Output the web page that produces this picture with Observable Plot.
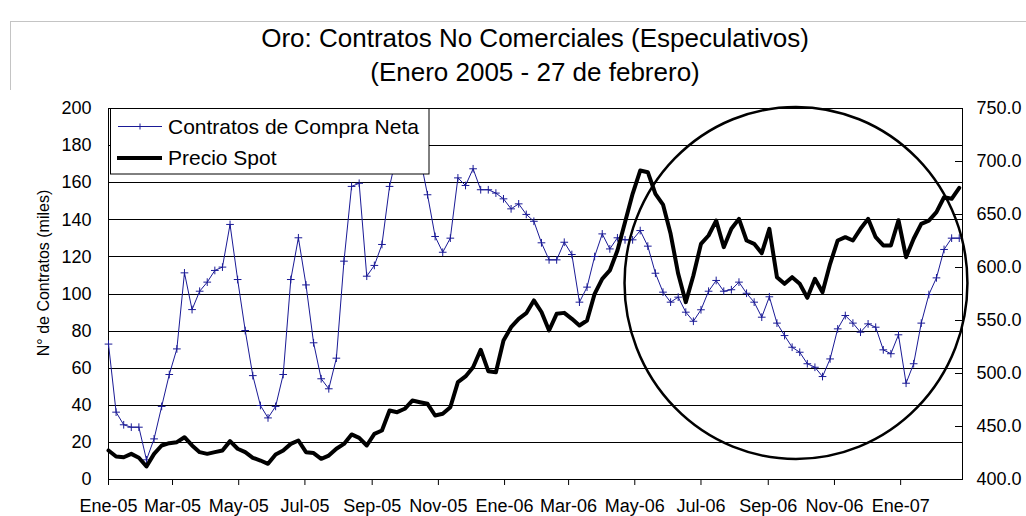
<!DOCTYPE html>
<html>
<head>
<meta charset="utf-8">
<script src="https://cdn.jsdelivr.net/npm/d3@7"></script>
<script src="https://cdn.jsdelivr.net/npm/@observablehq/plot@0.6"></script>
<style>
  body { margin: 0; background: #fff; font-family: "Liberation Sans", Arial, sans-serif; }
  #wrap { position: relative; width: 1026px; height: 516px; overflow: hidden; background: #fff; }
  #border { position: absolute; left: 10px; top: 21px; width: 1200px; height: 700px;
            border-left: 1px solid #c4c4c4; border-top: 1px solid #c4c4c4; }
  .t { position: absolute; left: 108px; width: 854px; text-align: center; font-size: 26px;
       line-height: 26px; color: #000; white-space: nowrap; }
  #chart { position: absolute; left: 0; top: 90px; }
</style>
</head>
<body>
<div id="wrap">
  <div id="border"></div>
  <div class="t" id="title" style="top:25px"></div>
  <div class="t" id="subtitle" style="top:59px"></div>
  <div id="chart"></div>
</div>
<script>
// ---- Data (weekly, Jan 2005 - 27 Feb 2007) ----
const titleText = "Oro: Contratos No Comerciales (Especulativos)";
const subtitleText = "(Enero 2005 - 27 de febrero)";
const yLabel = "N° de Contratos (miles)";
const seriesNames = ["Contratos de Compra Neta", "Precio Spot"];

// Contratos de compra neta (miles) - left axis
const netLong = [
  73, 36.3, 29.5, 28.2, 28.2, 10.6, 21.9, 39.4, 56.6, 70.4,
  111.4, 91.6, 101.5, 106.4, 112.7, 114.5, 137.5, 107.8, 80.3, 56,
  39.9, 33.2, 39.4, 56.6, 107.8, 130.3, 104.9, 73.7, 54.3, 48.9,
  65.4, 117.7, 158, 159.7, 109.6, 115.4, 126.7, 158, 176, 182,
  180, 174, 153.5, 131, 122.5, 130.1, 162.6, 158.5, 167.5, 156.2,
  156.2, 154.4, 151.3, 145.9, 148.6, 142.9, 139.2, 127.6, 118.4, 118.4,
  127.9, 121.3, 95.6, 103.7, 120.2, 132.4, 124.3, 130.3, 129.2, 129.2,
  134.2, 125.8, 111.2, 101, 95.6, 98.3, 90.2, 85.3, 91.5, 101.5,
  107.3, 101.5, 102.3, 106.4, 100.4, 95.6, 87.5, 98.5, 84.3, 77.6,
  71.3, 68.6, 62.4, 60.5, 55.5, 65, 81.2, 88.4, 84.3, 79.4,
  83.9, 82.1, 69.9, 67.8, 78, 51.9, 62.4, 84.3, 99.7, 108.7,
  124, 130.1, 130.1
];

// Precio spot (US$) - right axis
const spotPrice = [
  427.4, 421.7, 421, 424.2, 420.5, 412.3, 424.2, 432.1, 434.3, 435.2,
  439.9, 432.1, 425.8, 424.2, 425.8, 427.4, 436.2, 429, 425.8, 420.5,
  417.9, 414.8, 423.6, 427.4, 433.6, 436.8, 425.8, 424.9, 419.5, 422.6,
  429, 433.6, 442.5, 439.3, 432.1, 443.1, 446.2, 465.1, 463.5, 466.7,
  474.5, 472.9, 471.4, 460.4, 462, 468.2, 491.8, 497.2, 505.9, 522.4,
  502.2, 501.2, 531.1, 543.7, 551.6, 556.9, 568.9, 558, 540.6, 556.3,
  557.2, 551.6, 545.3, 550, 575.2, 589.3, 597.2, 616, 642.7, 669.5,
  691.5, 689.9, 669.5, 659.4, 631.8, 594.1, 567.3, 592.5, 622.3, 630.2,
  644.3, 619.2, 636.5, 645.9, 625.5, 622.3, 613.5, 636.5, 590.9, 584.6,
  590.9, 584.6, 571.4, 589.3, 576.7, 603.5, 625.5, 628.6, 625.5, 636.5,
  645.9, 628.6, 620.8, 620.8, 644.6, 609.7, 627.1, 641.2, 644.3, 652.2,
  666.3, 664.8, 675.2
];

const leftTicks = [0, 20, 40, 60, 80, 100, 120, 140, 160, 180, 200];
const priceTicks = [400, 450, 500, 550, 600, 650, 700, 750];
const xTickLabels = ["Ene-05","Mar-05","May-05","Jul-05","Sep-05","Nov-05",
                     "Ene-06","Mar-06","May-06","Jul-06","Sep-06","Nov-06","Ene-07"];
const xTickDates = [
  "2005-01-01","2005-03-01","2005-05-01","2005-07-01","2005-09-01","2005-11-01",
  "2006-01-01","2006-03-01","2006-05-01","2006-07-01","2006-09-01","2006-11-01","2007-01-01"
].map(s => new Date(s + "T00:00:00Z"));
const firstWeek = new Date("2005-01-01T00:00:00Z");
const xDomain = [new Date("2005-01-01T00:00:00Z"), new Date("2007-02-27T00:00:00Z")];

// annotation ellipse (in data units)
const circleCenter = { date: new Date("2006-09-27T00:00:00Z"), value: 105.7 };
const circleRadiusDays = 158.5;
const circleRadiusValue = 94.9;

// ---- Build ----
document.getElementById("title").textContent = titleText;
document.getElementById("subtitle").textContent = subtitleText;

const P_MIN = 400, P_MAX = 750, L_MAX = 200;
const toLeft = p => (p - P_MIN) / (P_MAX - P_MIN) * L_MAX;
const toPrice = v => P_MIN + v / L_MAX * (P_MAX - P_MIN);

const data = netLong.map((v, i) => ({
  date: d3.utcDay.offset(firstWeek, 7 * i),
  net: v,
  spotL: toLeft(spotPrice[i])
}));

const labelByTime = new Map(xTickDates.map((d, i) => [+d, xTickLabels[i]]));
const blue = "#1a1a96";
const W = 1026, H = 426, mL = 108, mR = 64, mT = 18, mB = 37;
const fw = W - mL - mR;

const plot = Plot.plot({
  width: W, height: H,
  marginLeft: mL, marginRight: mR, marginTop: mT, marginBottom: mB,
  style: { fontFamily: "'Liberation Sans', Arial, sans-serif", fontSize: "18px", color: "#000", background: "#fff", overflow: "visible" },
  x: { type: "utc", domain: xDomain },
  y: { domain: [0, 200] },
  marks: [
    Plot.ruleY(leftTicks, { stroke: "#000", strokeWidth: 1, shapeRendering: "crispEdges" }),
    Plot.axisY({ ticks: leftTicks, anchor: "left", tickSize: 0, tickPadding: 17, label: null, fontSize: 18 }),
    Plot.axisY({ ticks: priceTicks.map(toLeft), anchor: "right", tickSize: 0, tickPadding: 14, label: null, fontSize: 18,
                 tickFormat: v => d3.format(".1f")(toPrice(v)) }),
    Plot.tickY(priceTicks.map(toLeft), { insetLeft: fw - 7, stroke: "#000", shapeRendering: "crispEdges" }),
    Plot.axisX({ ticks: xTickDates, anchor: "bottom", tickSize: 6, tickPadding: 14, label: null, fontSize: 18,
                 tickFormat: d => labelByTime.get(+d) }),
    Plot.frame({ stroke: "#000", shapeRendering: "crispEdges" }),
    Plot.line(data, { x: "date", y: "net", stroke: blue, strokeWidth: 1 }),
    Plot.dot(data, { x: "date", y: "net", symbol: "plus", r: 2.6, stroke: blue, strokeWidth: 1 }),
    Plot.line(data, { x: "date", y: "spotL", stroke: "#000", strokeWidth: 4, strokeLinejoin: "round" }),
    Plot.text([yLabel], { frameAnchor: "left", textAnchor: "middle", lineAnchor: "middle",
                          dx: -65, dy: -21, rotate: -90, fontSize: 16, fill: "#000" })
  ]
});

document.getElementById("chart").appendChild(plot);

const svg = d3.select(plot);
const xs = plot.scale("x"), ys = plot.scale("y");

// legend (inside the frame, top-left)
const lg = svg.append("g")
  .attr("font-family", "'Liberation Sans', Arial, sans-serif")
  .attr("font-size", 21)
  .attr("text-anchor", "start")
  .attr("fill", "#000");
lg.append("rect").attr("x", mL + 2.5).attr("y", mT + 0.5).attr("width", 318.5).attr("height", 65.5)
  .attr("fill", "#fff").attr("stroke", "#000");
lg.append("line").attr("x1", mL + 10).attr("x2", mL + 54).attr("y1", mT + 18.5).attr("y2", mT + 18.5)
  .attr("stroke", blue).attr("stroke-width", 1);
lg.append("path").attr("d", `M${mL + 29},${mT + 18.5}h6M${mL + 32},${mT + 15.5}v6`)
  .attr("fill", "none").attr("stroke", blue).attr("stroke-width", 1);
lg.append("text").attr("x", mL + 60).attr("y", mT + 18.5).attr("dy", "0.35em").attr("text-anchor", "start").text(seriesNames[0]);
lg.append("line").attr("x1", mL + 9).attr("x2", mL + 54).attr("y1", mT + 50).attr("y2", mT + 50)
  .attr("stroke", "#000").attr("stroke-width", 4);
lg.append("text").attr("x", mL + 60).attr("y", mT + 50).attr("dy", "0.35em").attr("text-anchor", "start").text(seriesNames[1]);

// annotation ellipse
const cx = xs.apply(circleCenter.date);
const cy = ys.apply(circleCenter.value);
const rx = xs.apply(d3.utcDay.offset(circleCenter.date, circleRadiusDays)) - cx;
const ry = cy - ys.apply(circleCenter.value + circleRadiusValue);
svg.append("ellipse").attr("cx", cx).attr("cy", cy).attr("rx", rx).attr("ry", ry)
  .attr("fill", "none").attr("stroke", "#000").attr("stroke-width", 2.5);
</script>
</body>
</html>
